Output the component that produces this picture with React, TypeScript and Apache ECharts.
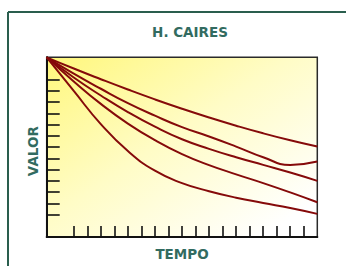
import React, { useEffect, useRef } from "react";
import * as echarts from "echarts";

const title = "H. CAIRES";
const xName = "TEMPO";
const yName = "VALOR";
const tempo = [0, 2, 4, 6, 8, 10, 12, 14, 16, 18, 20];
const curveA = [16, 15.0, 14.05, 13.13, 12.25, 11.42, 10.64, 9.91, 9.23, 8.61, 8.05];
const curveB = [16, 14.55, 13.2, 11.92, 10.8, 9.78, 8.95, 8.05, 7.1, 6.42, 6.72];
const curveC = [16, 14.2, 12.6, 11.12, 9.82, 8.7, 7.85, 7.1, 6.42, 5.74, 5.0];
const curveD = [16, 13.85, 11.85, 10.1, 8.62, 7.38, 6.4, 5.58, 4.8, 3.97, 3.09];
const curveE = [16, 13.0, 10.05, 7.65, 5.9, 4.8, 4.08, 3.5, 3.03, 2.58, 2.06];
const curves = [curveA, curveB, curveC, curveD, curveE];
const yTicks = [2, 3, 4, 5, 6, 7, 8, 9, 10, 11, 12, 13, 14];
const xTicks = [2, 3, 4, 5, 6, 7, 8, 9, 10, 11, 12, 13, 14, 15, 16, 17, 18, 19];

const FONT = "DejaVu Sans";
const TEAL = "#326b60";
const FRAME = "#2a5e4e";

export default function App() {
  const ref = useRef<HTMLDivElement>(null);
  useEffect(() => {
    document.body.style.margin = "0";
    const chart = echarts.init(ref.current!, null, { renderer: "svg" });
    chart.setOption({
      animation: false,
      backgroundColor: "#ffffff",
      graphic: [
        { type: "line", shape: { x1: 8, y1: 12, x2: 346, y2: 12 }, style: { stroke: FRAME, lineWidth: 2 } },
        { type: "line", shape: { x1: 8, y1: 12, x2: 8, y2: 266 }, style: { stroke: FRAME, lineWidth: 2 } },
        {
          type: "text",
          x: 190,
          y: 32,
          style: {
            text: title,
            fill: TEAL,
            font: `bold 13.5px "${FONT}"`,
            textAlign: "center",
            textVerticalAlign: "middle",
          },
        },
      ],
      grid: {
        left: 46.7,
        top: 57.3,
        right: 28.7,
        bottom: 27.7,
        show: true,
        borderColor: "#2a2a2a",
        borderWidth: 1.5,
        backgroundColor: {
          type: "linear",
          x: 0,
          y: 0,
          x2: 1,
          y2: 1,
          colorStops: [
            { offset: 0, color: "#fff77c" },
            { offset: 0.45, color: "#fffcc6" },
            { offset: 0.9, color: "#ffffff" },
            { offset: 1, color: "#ffffff" },
          ],
        },
      },
      xAxis: {
        type: "value",
        min: 0,
        max: 20,
        interval: 1,
        name: xName,
        nameLocation: "middle",
        nameGap: 10,
        nameTextStyle: { color: TEAL, fontFamily: FONT, fontWeight: "bold", fontSize: 13.5, verticalAlign: "top" },
        axisLine: { show: true, lineStyle: { color: "#111", width: 2 } },
        axisTick: { show: true, inside: true, length: 11, customValues: xTicks, lineStyle: { color: "#111", width: 1.6 } },
        axisLabel: { show: false },
        splitLine: { show: false },
      },
      yAxis: {
        type: "value",
        min: 0,
        max: 16,
        interval: 1,
        name: yName,
        nameLocation: "middle",
        nameGap: 7,
        nameRotate: 90,
        nameTextStyle: { color: TEAL, fontFamily: FONT, fontWeight: "bold", fontSize: 13.5, padding: [0, 8, 0, 0] },
        axisLine: { show: true, lineStyle: { color: "#111", width: 2 } },
        axisTick: { show: true, inside: true, length: 13, customValues: yTicks, lineStyle: { color: "#111", width: 1.6 } },
        axisLabel: { show: false },
        splitLine: { show: false },
      },
      series: curves.map((c, i) => ({
        type: "line",
        name: `curve${i + 1}`,
        data: tempo.map((t, j) => [t, c[j]]),
        smooth: 0.5,
        showSymbol: false,
        lineStyle: { color: "#850a0a", width: 2 },
      })),
    });
    return () => chart.dispose();
  }, []);
  return <div ref={ref} style={{ width: 346, height: 266 }} />;
}
